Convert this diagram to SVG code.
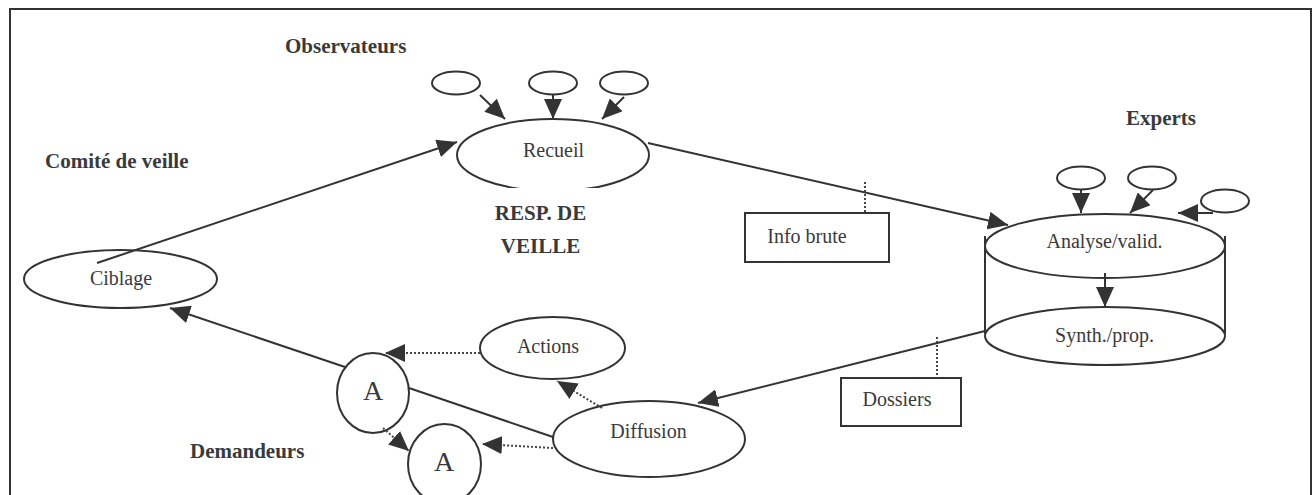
<svg xmlns="http://www.w3.org/2000/svg" width="1312" height="495" viewBox="0 0 1312 495">
<style>
.shape{fill:#fff;stroke:#333;stroke-width:2}
.open{fill:none;stroke:#333;stroke-width:2}
.lbl{font-family:"Liberation Serif","Times New Roman",serif;font-size:20px;fill:#3a3a3a;text-anchor:middle}
.big{font-family:"Liberation Serif","Times New Roman",serif;font-size:28px;fill:#3a3a3a;text-anchor:middle}
.bold{font-family:"Liberation Serif","Times New Roman",serif;font-size:21px;font-weight:bold;fill:#3a3a3a}
.ln{fill:none;stroke:#333;stroke-width:2}
.dot{fill:none;stroke:#444;stroke-width:2;stroke-dasharray:2 2}
</style>
<defs>
<marker id="ah" viewBox="0 0 20 18" refX="20" refY="9" markerWidth="20" markerHeight="18" markerUnits="userSpaceOnUse" orient="auto">
<path d="M0,0 L20,9 L0,18 z" fill="#333" stroke="none"/>
</marker>
</defs>
<rect x="0" y="0" width="1312" height="495" fill="#fff"/>
<path d="M10,495 V9 H1311 V495" class="open"/>

<g id="labels">
<text class="bold" x="285" y="53">Observateurs</text>
<text class="bold" x="45" y="168">Comité de veille</text>
<text class="bold" x="1126" y="125">Experts</text>
<text class="bold" x="190" y="458">Demandeurs</text>
</g>

<g id="obs1"><ellipse class="shape" cx="456" cy="83" rx="24" ry="11.5"/></g>
<g id="obs2"><ellipse class="shape" cx="553" cy="83" rx="24" ry="11.5"/></g>
<g id="obs3"><ellipse class="shape" cx="624" cy="83" rx="24" ry="11.5"/></g>

<g id="recueil">
<ellipse class="shape" cx="553" cy="155" rx="96" ry="36"/>
<text class="lbl" x="553.5" y="157">Recueil</text>
</g>
<g id="resp">
<rect x="470" y="188" width="170" height="75" fill="#fff"/>
<text class="bold" x="540.5" y="220" text-anchor="middle">RESP. DE</text>
<text class="bold" x="540.5" y="253" text-anchor="middle">VEILLE</text>
</g>

<g id="ciblage">
<ellipse class="shape" cx="120.5" cy="279" rx="96.5" ry="29"/>
<text class="lbl" x="121" y="285">Ciblage</text>
</g>

<g id="infobrute">
<rect class="shape" x="745" y="213" width="144" height="49"/>
<text class="lbl" x="807" y="243">Info brute</text>
</g>

<g id="exp1"><ellipse class="shape" cx="1081" cy="178" rx="24" ry="11.5"/></g>
<g id="exp2"><ellipse class="shape" cx="1152" cy="178" rx="24" ry="11.5"/></g>
<g id="exp3"><ellipse class="shape" cx="1225" cy="201" rx="24" ry="11.5"/></g>

<g id="cylindre">
<ellipse class="shape" cx="1105" cy="336" rx="120" ry="29"/>
<line class="ln" x1="985" y1="236" x2="985" y2="334"/>
<line class="ln" x1="1225" y1="236" x2="1225" y2="334"/>
<ellipse class="shape" cx="1105" cy="246" rx="120" ry="32"/>
</g>
<g id="analyse"><text class="lbl" x="1104.5" y="248">Analyse/valid.</text></g>
<g id="synth"><text class="lbl" x="1104.5" y="342">Synth./prop.</text></g>

<g id="dossiers">
<rect class="shape" x="841" y="378" width="120" height="48"/>
<text class="lbl" x="897" y="406">Dossiers</text>
</g>

<g id="actions">
<ellipse class="shape" cx="552.5" cy="348" rx="72.5" ry="31"/>
<text class="lbl" x="548" y="353">Actions</text>
</g>

<g id="diffusion">
<ellipse class="shape" cx="649" cy="439" rx="96" ry="38"/>
<text class="lbl" x="648.5" y="438">Diffusion</text>
</g>

<g id="a1">
<ellipse class="shape" cx="373" cy="393" rx="36" ry="40"/>
<text class="big" x="373" y="400">A</text>
</g>
<g id="a2">
<ellipse class="shape" cx="444.5" cy="464" rx="36.5" ry="40"/>
<text class="big" x="444" y="471">A</text>
</g>

<g id="connectors">
<line class="ln" x1="97" y1="263" x2="457" y2="142" marker-end="url(#ah)"/>
<line class="ln" x1="480" y1="95" x2="505" y2="119" marker-end="url(#ah)"/>
<line class="ln" x1="553" y1="95" x2="553" y2="119" marker-end="url(#ah)"/>
<line class="ln" x1="624" y1="97" x2="602" y2="119" marker-end="url(#ah)"/>
<line class="ln" x1="648" y1="143" x2="1008" y2="225" marker-end="url(#ah)"/>
<line class="ln" x1="1081" y1="190" x2="1081" y2="213" marker-end="url(#ah)"/>
<line class="ln" x1="1153" y1="190" x2="1130" y2="213" marker-end="url(#ah)"/>
<line class="ln" x1="1213" y1="213" x2="1178" y2="213" marker-end="url(#ah)"/>
<line class="ln" x1="1105" y1="273" x2="1105" y2="307" marker-end="url(#ah)"/>
<line class="ln" x1="985" y1="331" x2="698" y2="403" marker-end="url(#ah)"/>
<line class="ln" x1="553" y1="437" x2="409" y2="388"/>
<line class="ln" x1="345" y1="367" x2="170" y2="308" marker-end="url(#ah)"/>
<line class="dot" x1="602" y1="408" x2="557" y2="381" marker-end="url(#ah)"/>
<line class="dot" x1="553" y1="448" x2="482" y2="444" marker-end="url(#ah)"/>
<line class="dot" x1="480" y1="353" x2="385" y2="353" marker-end="url(#ah)"/>
<line class="dot" x1="383" y1="428" x2="409" y2="451" marker-end="url(#ah)"/>
<line class="dot" x1="865" y1="182" x2="865" y2="212"/>
<line class="dot" x1="937" y1="337" x2="937" y2="378"/>
</g>
</svg>
